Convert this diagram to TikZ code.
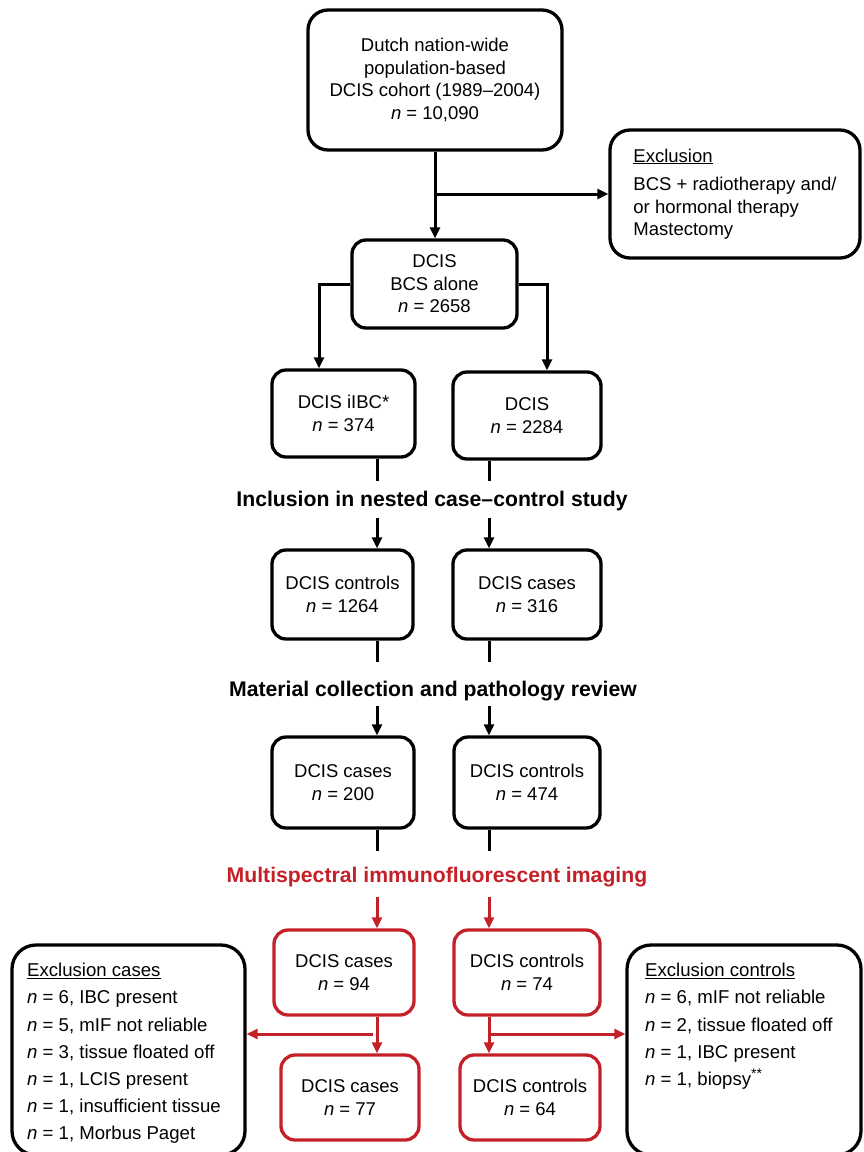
\documentclass[tikz,border=0pt]{standalone}
\usepackage{fontspec}
\setmainfont{Liberation Sans}
\usetikzlibrary{arrows.meta}
\definecolor{imgred}{RGB}{196,32,40}

\begin{document}
\begin{tikzpicture}[x=1pt, y=-1pt,
        box/.style={draw, line width=3.3pt, rounded corners=14pt, align=center,
            inner sep=0pt, font=\fontsize{18.5}{22.5}\selectfont},
        redbox/.style={box, draw=imgred},
        bigbox/.style={draw, line width=3.3pt, rounded corners=24pt},
        line/.style={line width=3pt},
        arr/.style={line, -{Triangle[length=11pt,width=10pt]}},
        redarr/.style={arr, draw=imgred},
        head/.style={inner sep=0pt, font=\fontsize{21.2}{24}\selectfont\bfseries},
        listtxt/.style={inner sep=0pt, align=left, font=\fontsize{18.6}{27.2}\selectfont}]
        \useasboundingbox (0,0) rectangle (863,1152);

        %%draw the boxes
        \node[box, rounded corners=20pt, minimum width=254pt, minimum height=140pt] (cohort) at (435,80)
            {Dutch nation-wide\\population-based\\DCIS cohort (1989–2004)\\\textit{n} = 10,090};
        \node[box, rounded corners=20pt, align=left, minimum width=250pt, minimum height=128pt] (excl) at (735,194)
            {\underline{Exclusion}\\[6pt]BCS + radiotherapy and/\\or hormonal therapy\\Mastectomy};
        \node[box, minimum width=165pt, minimum height=88pt] (bcs) at (434.5,284)
            {DCIS\\BCS alone\\\textit{n} = 2658};
        \node[box, minimum width=143pt, minimum height=87pt] (ilbc) at (343.5,413.5)
            {DCIS iIBC*\\\textit{n} = 374};
        \node[box, minimum width=148pt, minimum height=87pt] (dcis) at (527,415.5)
            {DCIS\\\textit{n} = 2284};
        \node[box, minimum width=141pt, minimum height=89pt] (ctrl1) at (342.5,594.5)
            {DCIS controls\\\textit{n} = 1264};
        \node[box, minimum width=148pt, minimum height=89pt] (cas1) at (527,594.5)
            {DCIS cases\\\textit{n} = 316};
        \node[box, minimum width=142pt, minimum height=91pt] (cas2) at (343,782.5)
            {DCIS cases\\\textit{n} = 200};
        \node[box, minimum width=146pt, minimum height=91pt] (ctrl2) at (527,782.5)
            {DCIS controls\\\textit{n} = 474};
        \node[redbox, minimum width=140pt, minimum height=85pt] (cas3) at (344,972.5)
            {DCIS cases\\\textit{n} = 94};
        \node[redbox, minimum width=146pt, minimum height=85pt] (ctrl3) at (527,972.5)
            {DCIS controls\\\textit{n} = 74};
        \node[redbox, minimum width=138pt, minimum height=85pt] (cas4) at (350,1097.5)
            {DCIS cases\\\textit{n} = 77};
        \node[redbox, minimum width=140pt, minimum height=85pt] (ctrl4) at (530,1097.5)
            {DCIS controls\\\textit{n} = 64};

        %%exclusion lists
        \node[bigbox, minimum width=233pt, minimum height=210pt] (exclcases) at (128.5,1050) {};
        \node[bigbox, minimum width=234pt, minimum height=210pt] (exclctrl) at (744,1050) {};
        \node[listtxt, anchor=north west] (casestxt) at (27,963)
            {\underline{Exclusion cases}\\
            \textit{n} = 6, IBC present\\
            \textit{n} = 5, mIF not reliable\\
            \textit{n} = 3, tissue floated off\\
            \textit{n} = 1, LCIS present\\
            \textit{n} = 1, insufficient tissue\\
            \textit{n} = 1, Morbus Paget};
        \node[listtxt, anchor=north west] (ctrltxt) at (645,963)
            {\underline{Exclusion controls}\\
            \textit{n} = 6, mIF not reliable\\
            \textit{n} = 2, tissue floated off\\
            \textit{n} = 1, IBC present\\
            \textit{n} = 1, biopsy\raisebox{7pt}{\fontsize{14}{14}\selectfont **}};

        %%headings
        \node[head] (incl) at (432,501){Inclusion in nested case–control study};
        \node[head] (mat) at (433,691){Material collection and pathology review};
        \node[head, text=imgred] (mif) at (437,877){Multispectral immunofluorescent imaging};

        \coordinate (colL) at (377,0);
        \coordinate (colR) at (489,0);
        \coordinate (brL) at (373,1034);
        \coordinate (brR) at (489,1034);

        %%draw the arrows
        \draw[arr] (cohort.south) -- (cohort.south |- bcs.north);
        \draw[arr] (cohort.south |- excl.west) -- (excl.west);
        \draw[arr] (bcs.west) -| ([xshift=-24.5pt]ilbc.north);
        \draw[arr] (bcs.east) -| ([xshift=20pt]dcis.north);

        \draw[line, shorten >=10pt] (ilbc.south -| colL) -- (incl.north -| colL);
        \draw[line, shorten >=10pt] (dcis.south -| colR) -- (incl.north -| colR);
        \draw[arr, shorten <=7pt] (incl.south -| colL) -- (ctrl1.north -| colL);
        \draw[arr, shorten <=7pt] (incl.south -| colR) -- (cas1.north -| colR);

        \draw[line, shorten >=19pt] (ctrl1.south -| colL) -- (mat.north -| colL);
        \draw[line, shorten >=19pt] (cas1.south -| colR) -- (mat.north -| colR);
        \draw[arr, shorten <=5pt] (mat.south -| colL) -- (cas2.north -| colL);
        \draw[arr, shorten <=5pt] (mat.south -| colR) -- (ctrl2.north -| colR);

        \draw[line, shorten >=16pt] (cas2.south -| colL) -- (mif.north -| colL);
        \draw[line, shorten >=16pt] (ctrl2.south -| colR) -- (mif.north -| colR);
        \draw[redarr, shorten <=10pt] (mif.south -| colL) -- (cas3.north -| colL);
        \draw[redarr, shorten <=10pt] (mif.south -| colR) -- (ctrl3.north -| colR);

        \draw[redarr] (cas3.south -| colL) -- (cas4.north -| colL);
        \draw[redarr] (ctrl3.south -| colR) -- (ctrl4.north -| colR);
        \draw[redarr] (brL) -- (brL -| exclcases.east);
        \draw[redarr] (brR) -- (brR -| exclctrl.west);
    \end{tikzpicture}
\end{document}
